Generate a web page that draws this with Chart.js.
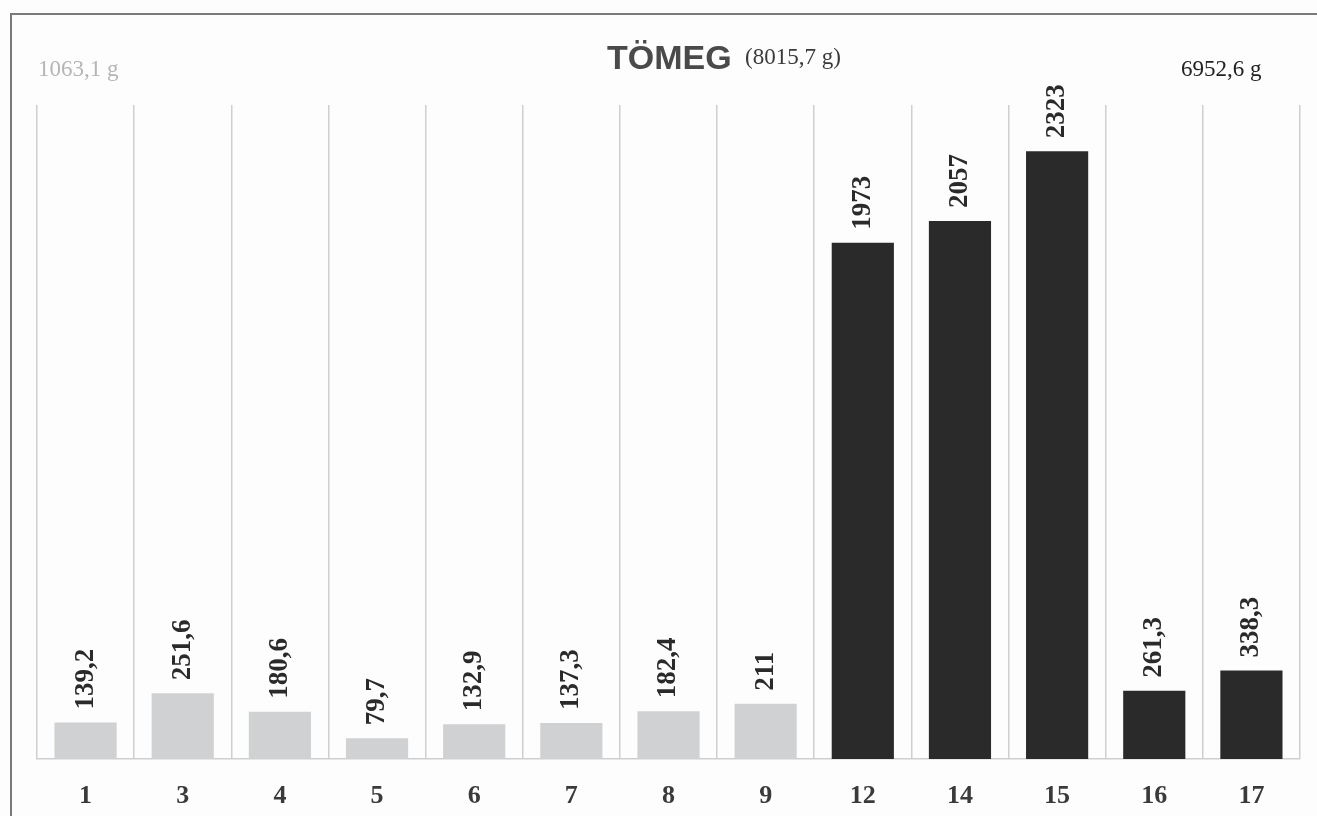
<!DOCTYPE html>
<html>
<head>
<meta charset="utf-8">
<script src="https://cdn.jsdelivr.net/npm/chart.js@4"></script>
<style>
  html, body { margin: 0; padding: 0; background: #fdfdfd; }
  #wrap { width: 1317px; height: 816px; position: relative; }
</style>
</head>
<body>
<div id="wrap"><canvas id="chart"></canvas></div>
<script>
const categories = ["1", "3", "4", "5", "6", "7", "8", "9", "12", "14", "15", "16", "17"];
const weights = [139.2, 251.6, 180.6, 79.7, 132.9, 137.3, 182.4, 211, 1973, 2057, 2323, 261.3, 338.3];
const barColors = ["#d0d1d3", "#d0d1d3", "#d0d1d3", "#d0d1d3", "#d0d1d3", "#d0d1d3", "#d0d1d3", "#d0d1d3",
  "#2b2a2b", "#2b2a2b", "#2b2a2b", "#2b2a2b", "#2b2a2b"];
const titleMain = "TÖMEG";
const titleTotal = "(8015,7 g)";
const leftTotal = "1063,1 g";
const rightTotal = "6952,6 g";

const serif = '"Liberation Serif", "Times New Roman", serif';

function fmt(v) {
  return String(v).replace(".", ",");
}

// value labels rotated above the bars + titles and frame
const labelPlugin = {
  id: "labels",
  afterDatasetsDraw(chart) {
    const ctx = chart.ctx;
    const meta = chart.getDatasetMeta(0);
    ctx.save();
    ctx.fillStyle = "#2a2a2a";
    ctx.font = "bold 27px " + serif;
    ctx.textAlign = "left";
    ctx.textBaseline = "middle";
    meta.data.forEach((bar, i) => {
      ctx.save();
      ctx.translate(bar.x, bar.y - 13);
      ctx.rotate(-Math.PI / 2);
      ctx.fillText(fmt(weights[i]), 0, 0);
      ctx.restore();
    });
    ctx.restore();
  },
  afterDraw(chart) {
    const ctx = chart.ctx;
    ctx.save();
    // frame
    ctx.strokeStyle = "#7a7a7a";
    ctx.lineWidth = 2;
    ctx.beginPath();
    ctx.moveTo(11, 816);
    ctx.lineTo(11, 14);
    ctx.lineTo(1317, 14);
    ctx.stroke();

    ctx.textBaseline = "alphabetic";
    ctx.font = "bold 34px Arial, 'Liberation Sans', sans-serif";
    ctx.fillStyle = "#4a4a4a";
    ctx.textAlign = "left";
    ctx.fillText(titleMain, 607, 69);
    ctx.font = "23px " + serif;
    ctx.fillStyle = "#3a3a3a";
    ctx.fillText(titleTotal, 745, 64);

    ctx.font = "23px " + serif;
    ctx.fillStyle = "#b5b5b5";
    ctx.fillText(leftTotal, 38, 76);
    ctx.fillStyle = "#222";
    ctx.fillText(rightTotal, 1181, 76);
    ctx.restore();
  }
};

new Chart(document.getElementById("chart"), {
  type: "bar",
  data: {
    labels: categories,
    datasets: [{
      data: weights,
      backgroundColor: barColors,
      categoryPercentage: 1,
      barPercentage: 0.64
    }]
  },
  options: {
    responsive: true,
    maintainAspectRatio: false,
    animation: false,
    layout: { padding: { left: 37, right: 17, top: 105, bottom: 0 } },
    plugins: {
      legend: { display: false },
      tooltip: { enabled: false }
    },
    scales: {
      x: {
        offset: true,
        grid: { offset: true, color: "#cfcfcf", lineWidth: 1.5, drawTicks: false },
        border: { color: "#cfcfcf", width: 1.5 },
        ticks: {
          color: "#3a3a3a",
          font: { family: serif, size: 26, weight: "bold" },
          padding: 22,
          maxRotation: 0
        },
        afterFit(scale) { scale.height = 57; }
      },
      y: {
        display: false,
        min: 0,
        max: 2500
      }
    }
  },
  plugins: [labelPlugin]
});
</script>
</body>
</html>
